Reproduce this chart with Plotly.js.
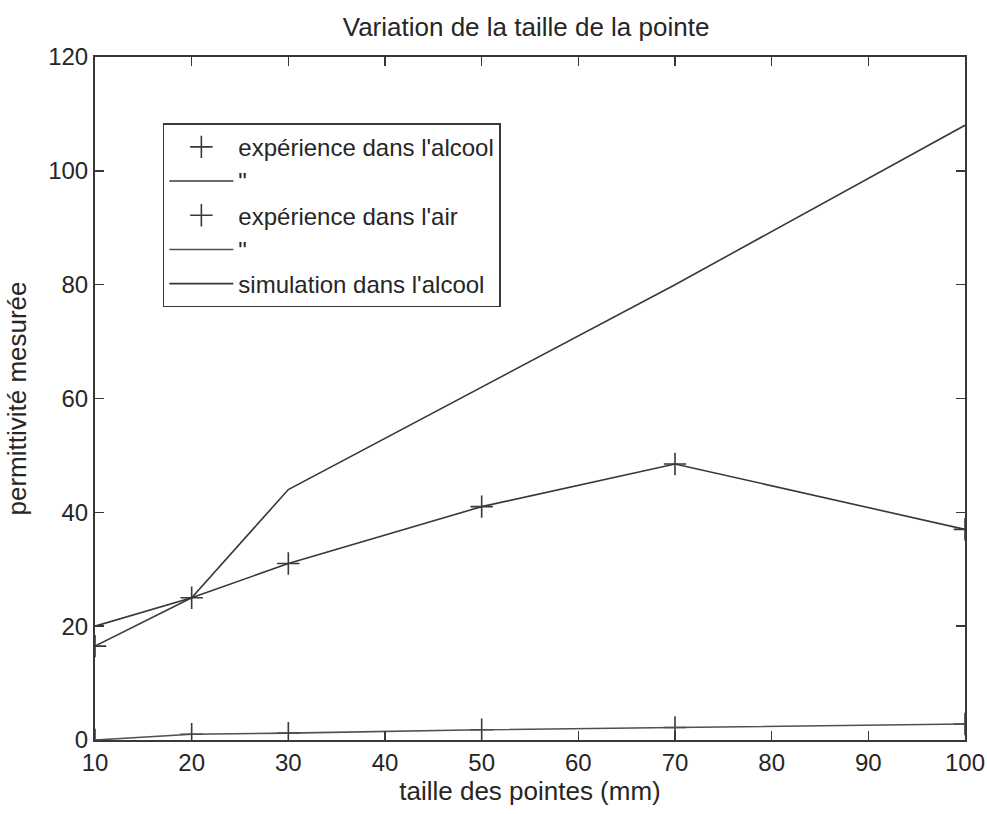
<!DOCTYPE html>
<html>
<head>
<meta charset="utf-8">
<script src="https://cdn.plot.ly/plotly-3.0.1.min.js"></script>
<style>html,body{margin:0;padding:0;background:#fff;}#chart{width:987px;height:814px;}</style>
</head>
<body>
<div id="chart"></div>
<script>
// Tip sizes (mm)
const tailles = [10, 20, 30, 50, 70, 100];
// Measured permittivity, experiment in alcohol
const expAlcool = [16.5, 25, 31, 41, 48.5, 37];
// Measured permittivity, experiment in air
const expAir = [0, 1, 1.2, 1.8, 2.2, 2.8];
// Simulated permittivity in alcohol
const simAlcool = [20, 25, 44, 62, 80, 108];

const xTicks = [10, 20, 30, 40, 50, 60, 70, 80, 90, 100];
const yTicks = [0, 20, 40, 60, 80, 100, 120];

const ink = '#383838';
const txt = '#262626';
const fontFam = '"Liberation Sans", Arial, Helvetica, sans-serif';

const plusMarker = {symbol: 'cross-thin', size: 16, line: {width: 1.6, color: ink}, color: ink};

const traces = [
  {x: tailles, y: expAlcool, mode: 'markers', name: "expérience dans l'alcool",
   marker: plusMarker},
  {x: tailles, y: expAlcool, mode: 'lines', name: '"',
   line: {color: ink, width: 1.6}},
  {x: tailles, y: expAir, mode: 'markers', name: "expérience dans l'air",
   marker: plusMarker},
  {x: tailles, y: expAir, mode: 'lines', name: '"',
   line: {color: '#505050', width: 1.6}},
  {x: tailles, y: simAlcool, mode: 'lines', name: "simulation dans l'alcool",
   line: {color: ink, width: 1.6}}
];

const axisCommon = {
  showgrid: false, zeroline: false, showline: true, mirror: 'ticks',
  linecolor: ink, linewidth: 2, ticks: 'inside', ticklen: 9, tickwidth: 1.5,
  tickcolor: ink, tickfont: {family: fontFam, size: 24, color: txt}
};

const layout = {
  width: 987, height: 814,
  paper_bgcolor: '#fff', plot_bgcolor: '#fff',
  margin: {l: 95, r: 22, t: 57, b: 74},
  title: {text: 'Variation de la taille de la pointe', x: 0.533, xanchor: 'center',
          y: 0.967, yanchor: 'middle',
          font: {family: fontFam, size: 26, color: txt}},
  xaxis: Object.assign({}, axisCommon, {
    range: [10, 100], tickvals: xTicks, ticktext: xTicks.map(String),
    title: {text: 'taille des pointes (mm)', standoff: 6,
            font: {family: fontFam, size: 26, color: txt}}
  }),
  yaxis: Object.assign({}, axisCommon, {
    range: [0, 120], tickvals: yTicks, ticktext: yTicks.map(String),
    title: {text: 'permittivité mesurée', standoff: 14,
            font: {family: fontFam, size: 26, color: txt}}
  }),
  showlegend: true,
  legend: {
    x: 0.078, y: 0.903, xanchor: 'left', yanchor: 'top',
    bgcolor: '#fff', bordercolor: ink, borderwidth: 1.5,
    font: {family: fontFam, size: 24, color: txt},
    traceorder: 'normal', itemwidth: 64
  }
};

Plotly.newPlot('chart', traces, layout, {displayModeBar: false, staticPlot: true});
</script>
</body>
</html>
